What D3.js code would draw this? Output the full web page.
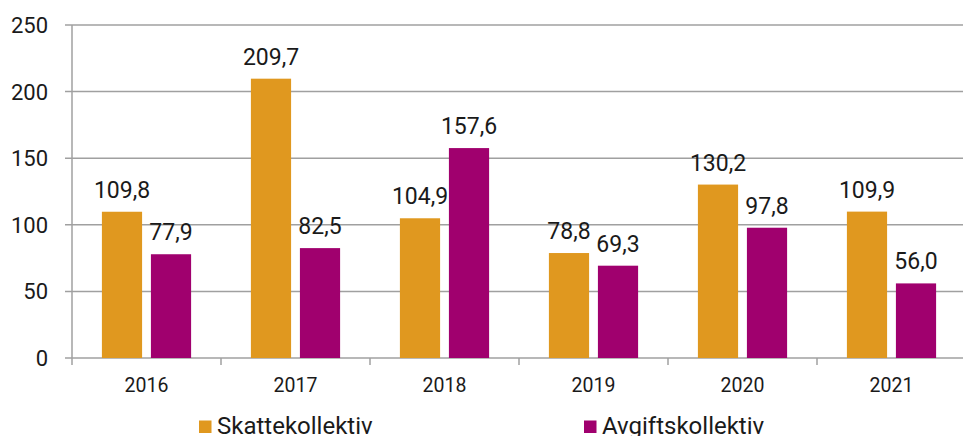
<!DOCTYPE html>
<html>
<head>
<meta charset="utf-8">
<script src="https://cdn.jsdelivr.net/npm/d3@7"></script>
<style>
  body { margin: 0; background: #fff; }
  text { font-family: Roboto, "Noto Sans", sans-serif; fill: #1a1a1a; }
</style>
</head>
<body>
<div id="vis"></div>
<script>
// chart data
var years = ["2016", "2017", "2018", "2019", "2020", "2021"];
var skatt = [109.8, 209.7, 104.9, 78.8, 130.2, 109.9];
var avgift = [77.9, 82.5, 157.6, 69.3, 97.8, 56.0];
var seriesNames = ["Skattekollektiv", "Avgiftskollektiv"];
var seriesColors = ["#e0981f", "#a0006e"];
var yTicks = [0, 50, 100, 150, 200, 250];

var width = 963, height = 436;
var margin = {top: 25, left: 72, right: -3, bottom: 78};

var svg = d3.select("#vis")
    .append("svg")
    .attr("width", width)
    .attr("height", height);

var x = d3.scaleBand()
    .domain(years)
    .range([margin.left, width - margin.right]);

var x1 = d3.scaleBand()
    .domain(seriesNames)
    .range([0, x.bandwidth()])
    .paddingInner(0.18)
    .paddingOuter(0.61);

var y = d3.scaleLinear()
    .domain([0, 250])
    .range([height - margin.bottom, margin.top]);

// gridlines + y labels
svg.selectAll(".grid")
    .data(yTicks)
    .join("line")
    .attr("x1", margin.left - 7)
    .attr("x2", width)
    .attr("y1", d => y(d))
    .attr("y2", d => y(d))
    .attr("stroke", "#a0a0a0")
    .attr("stroke-width", 1.5);

svg.selectAll(".ylab")
    .data(yTicks)
    .join("text")
    .attr("x", 48)
    .attr("y", d => y(d))
    .attr("dy", "0.36em")
    .attr("text-anchor", "end")
    .style("font-size", "22px")
    .text(d => d);

// vertical axis line
svg.append("line")
    .attr("x1", margin.left).attr("x2", margin.left)
    .attr("y1", y(250)).attr("y2", y(0) + 7)
    .attr("stroke", "#a0a0a0")
    .attr("stroke-width", 1.5);

// category ticks on the boundaries
svg.selectAll(".xtick")
    .data(years.slice(1))
    .join("line")
    .attr("x1", d => x(d)).attr("x2", d => x(d))
    .attr("y1", y(0)).attr("y2", y(0) + 7)
    .attr("stroke", "#a0a0a0")
    .attr("stroke-width", 1.5);

svg.selectAll(".xlab")
    .data(years)
    .join("text")
    .attr("x", d => x(d) + x.bandwidth() / 2)
    .attr("y", y(0) + 34)
    .attr("text-anchor", "middle")
    .style("font-size", "19.5px")
    .text(d => d);

// bars
var rows = years.map((yr, i) => ({year: yr, vals: [skatt[i], avgift[i]]}));

var groups = svg.selectAll(".grp")
    .data(rows)
    .join("g")
    .attr("transform", d => "translate(" + x(d.year) + ",0)");

groups.selectAll("rect")
    .data(d => d.vals.map((v, j) => ({name: seriesNames[j], v: v, c: seriesColors[j]})))
    .join("rect")
    .attr("x", d => x1(d.name))
    .attr("width", x1.bandwidth())
    .attr("y", d => y(d.v))
    .attr("height", d => y(0) - y(d.v))
    .attr("fill", d => d.c);

groups.selectAll("text")
    .data(d => d.vals.map((v, j) => ({name: seriesNames[j], v: v})))
    .join("text")
    .attr("x", d => x1(d.name) + x1.bandwidth() / 2)
    .attr("y", d => y(d.v) - 14)
    .attr("text-anchor", "middle")
    .style("font-size", "23px")
    .text(d => d3.format(".1f")(d.v).replace(".", ","));

// legend
var legX = [199, 584];
var leg = svg.selectAll(".leg")
    .data(seriesNames)
    .join("g")
    .attr("transform", (d, i) => "translate(" + legX[i] + ",420.5)");

leg.append("rect")
    .attr("width", 12.5).attr("height", 12.5)
    .attr("fill", (d, i) => seriesColors[i]);

leg.append("text")
    .attr("x", 18)
    .attr("y", 13.5)
    .style("font-size", "24px")
    .text(d => d);
</script>
</body>
</html>
